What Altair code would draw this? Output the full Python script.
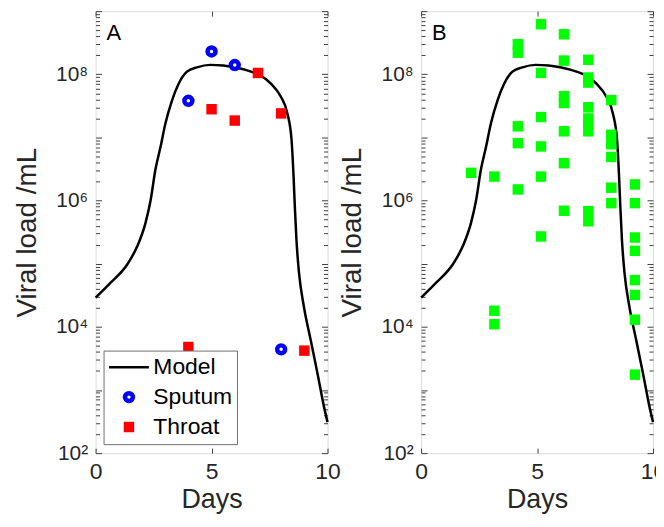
import altair as alt
import pandas as pd

# ---------------- data ----------------
model_days = [0.0, 0.65, 1.37, 1.80, 2.15, 2.37, 2.58, 2.80, 3.01, 3.30, 3.58, 3.94, 4.37,
              4.94, 5.5, 6.0, 6.70, 7.13, 7.56, 7.99, 8.27, 8.45, 8.53, 8.59, 8.66, 8.77,
              8.98, 9.27, 9.56, 9.84, 10.0]
model_load = [2.9e4, 5.0e4, 9.8e4, 1.9e5, 4.4e5, 1.0e6, 3.1e6, 7.1e6, 1.66e7, 3.9e7, 7.1e7,
              1.1e8, 1.29e8, 1.41e8, 1.38e8, 1.29e8, 1.1e8, 9.5e7, 7.1e7, 4.4e7, 2.4e7,
              9.1e6, 2.7e6, 8.1e5, 2.4e5, 7.2e4, 2.1e4, 6.3e3, 1.9e3, 5.6e2, 3.1e2]

sputum_days = [4, 5, 6, 8]
sputum_load = [3.8e7, 2.3e8, 1.4e8, 4.4e3]

throat_days = [4, 5, 6, 7, 8, 9]
throat_load = [4.8e3, 2.8e7, 1.85e7, 1.05e8, 2.4e7, 4.2e3]

b_columns = [2.16, 3.16, 4.17, 5.17, 6.16, 7.21, 8.2, 9.22]
b_values = [
    [2.75e6],
    [2.4e6, 1.8e4, 1.1e4],
    [3.0e8, 2.2e8, 1.5e7, 8.1e6, 1.5e6],
    [6.2e8, 1.05e8, 2.1e7, 7.2e6, 2.4e6, 2.7e5],
    [4.3e8, 1.65e8, 4.5e7, 3.5e7, 1.25e7, 3.9e6, 6.9e5],
    [1.7e8, 8.9e7, 7.4e7, 3.0e7, 2.0e7, 1.6e7, 1.25e7, 6.8e5, 4.7e5],
    [3.9e7, 1.1e7, 7.8e6, 4.9e6, 1.6e6, 9.1e5],
    [1.8e6, 9.1e5, 2.6e5, 1.6e5, 5.5e4, 3.2e4, 1.3e4, 1.75e3],
]

series_names = ["Model", "Sputum", "Throat"]
series_stroke = ["#000000", "#0000ff", "transparent"]
series_fill = ["transparent", "#ffffff", "#ff0000"]
series_shape = ["stroke", "circle", "square"]
series_size = [1600, 64, 110]
series_width = [2.5, 4.5, 0]
panel_labels = ["A", "B"]
x_ticks = [0, 5, 10]
y_label_ticks = [1e2, 1e4, 1e6, 1e8]
y_minor_ticks = [k * 10 ** d for d in range(2, 9) for k in range(1, 10)] + [1e9]

# ---------------- tables ----------------
model_df = pd.DataFrame({"day": model_days, "load": model_load, "series": "Model"})
sputum_df = pd.DataFrame({"day": sputum_days, "load": sputum_load, "series": "Sputum"})
throat_df = pd.DataFrame({"day": throat_days, "load": throat_load, "series": "Throat"})
b_df = pd.DataFrame(
    [{"day": d, "load": v} for d, vals in zip(b_columns, b_values) for v in vals]
)

# ---------------- style ----------------
FONT = "Liberation Sans"
TXT = "#262626"
BOX = "#707070"
TICK = "#404040"
W, H = 233, 444

xscale = alt.Scale(domain=[0, 10], nice=False, zero=False)
yscale = alt.Scale(type="log", domain=[1e2, 1e9], nice=False)

SUP = "['⁰','¹','²','³','⁴','⁵','⁶','⁷','⁸','⁹']"
major_test = "abs(log(datum.value)/LN10 - round(log(datum.value)/LN10)) < 0.001"
ytick_size = {"condition": {"test": major_test, "value": 6}, "value": 4}


def x_axis(kind):
    if kind == 0:
        return alt.Axis(orient="bottom", values=x_ticks, title="Days", ticks=False,
                        domain=False, grid=False, labelFontSize=23, labelPadding=8,
                        labelFlush=False, titleFontSize=27, titlePadding=3,
                        labelColor=TXT, titleColor=TXT, labelFont=FONT, titleFont=FONT,
                        titleFontWeight="normal")
    return alt.Axis(orient="top" if kind == 1 else "bottom", offset=-H, values=x_ticks,
                    labels=False, title=None, domain=False, grid=False, tickSize=5,
                    tickColor=TICK, tickWidth=1)


def y_axis(kind):
    if kind == 0:
        return alt.Axis(orient="left", values=y_label_ticks, title="Viral load /mL",
                        ticks=False, domain=False, grid=False, labelFontSize=21,
                        labelPadding=8, labelFlush=False, titleFontSize=28,
                        titlePadding=14, labelColor=TXT, titleColor=TXT, labelFont=FONT,
                        titleFont=FONT, titleFontWeight="normal",
                        labelExpr="'10' + " + SUP + "[round(log(datum.value)/LN10)]")
    return alt.Axis(orient="right" if kind == 1 else "left", offset=-W,
                    values=y_minor_ticks, labels=False, title=None, domain=False,
                    grid=False, tickSize=ytick_size, tickColor=TICK, tickWidth=1)


legend = alt.Legend(title=None, orient="none", legendX=8, legendY=341,
                    direction="vertical", columns=1, padding=4, strokeColor=BOX,
                    fillColor="white", labelFontSize=23, labelFont=FONT,
                    labelColor="black", clipHeight=25.5, rowPadding=4, symbolOffset=0,
                    labelOffset=3, labelExpr="datum.label + '\u00a0\u00a0'")

stroke_enc = alt.Stroke("series:N", scale=alt.Scale(domain=series_names, range=series_stroke), legend=legend)
fill_enc = alt.Fill("series:N", scale=alt.Scale(domain=series_names, range=series_fill), legend=legend)
shape_enc = alt.Shape("series:N", scale=alt.Scale(domain=series_names, range=series_shape), legend=legend)
size_enc = alt.Size("series:N", scale=alt.Scale(type="ordinal", domain=series_names, range=series_size), legend=legend)
width_enc = alt.StrokeWidth("series:N", scale=alt.Scale(type="ordinal", domain=series_names, range=series_width), legend=legend)


def label_layer(t):
    return alt.Chart(pd.DataFrame({"t": [t]})).mark_text(
        align="left", baseline="alphabetic", fontSize=22, font=FONT, color="black"
    ).encode(x=alt.value(11), y=alt.value(28.7), text="t:N")


# ---------------- panel A ----------------
lineA = alt.Chart(model_df).mark_line(interpolate="monotone").encode(
    x=alt.X("day:Q", scale=xscale, axis=x_axis(0)),
    y=alt.Y("load:Q", scale=yscale, axis=y_axis(0)),
    stroke=stroke_enc, strokeWidth=width_enc,
)
sputA = alt.Chart(sputum_df).mark_point(filled=True, opacity=1).encode(
    x=alt.X("day:Q", scale=xscale, axis=x_axis(1)),
    y=alt.Y("load:Q", scale=yscale, axis=y_axis(1)),
    stroke=stroke_enc, fill=fill_enc, shape=shape_enc, size=size_enc, strokeWidth=width_enc,
)
throA = alt.Chart(throat_df).mark_point(filled=True, opacity=1).encode(
    x=alt.X("day:Q", scale=xscale, axis=x_axis(2)),
    y=alt.Y("load:Q", scale=yscale, axis=y_axis(2)),
    stroke=stroke_enc, fill=fill_enc, shape=shape_enc, size=size_enc, strokeWidth=width_enc,
)
panelA = alt.layer(lineA, sputA, throA, label_layer(panel_labels[0])).resolve_axis(
    x="independent", y="independent").properties(width=W, height=H)

# ---------------- panel B ----------------
lineB = alt.Chart(model_df).mark_line(strokeWidth=2.5, interpolate="monotone",
                                      color="black").encode(
    x=alt.X("day:Q", scale=xscale, axis=x_axis(0)),
    y=alt.Y("load:Q", scale=yscale, axis=y_axis(0)),
)
ptsB = alt.Chart(b_df).mark_point(shape="square", filled=True, size=110, strokeWidth=0,
                                  opacity=1, color="#00ff00").encode(
    x=alt.X("day:Q", scale=xscale, axis=x_axis(1)),
    y=alt.Y("load:Q", scale=yscale, axis=y_axis(1)),
)
ghostB = alt.Chart(model_df).mark_line(opacity=0).encode(
    x=alt.X("day:Q", scale=xscale, axis=x_axis(2)),
    y=alt.Y("load:Q", scale=yscale, axis=y_axis(2)),
)
panelB = alt.layer(lineB, ptsB, ghostB, label_layer(panel_labels[1])).resolve_axis(
    x="independent", y="independent").properties(width=W, height=H)

chart = alt.hconcat(panelA, panelB, spacing=94, bounds="flush").properties(
    padding={"left": 5, "top": 1, "right": -11, "bottom": 0}
).configure_view(stroke=BOX, strokeWidth=1).configure(font=FONT)

chart.save("out.html", embed_options={"renderer": "svg", "actions": False})
